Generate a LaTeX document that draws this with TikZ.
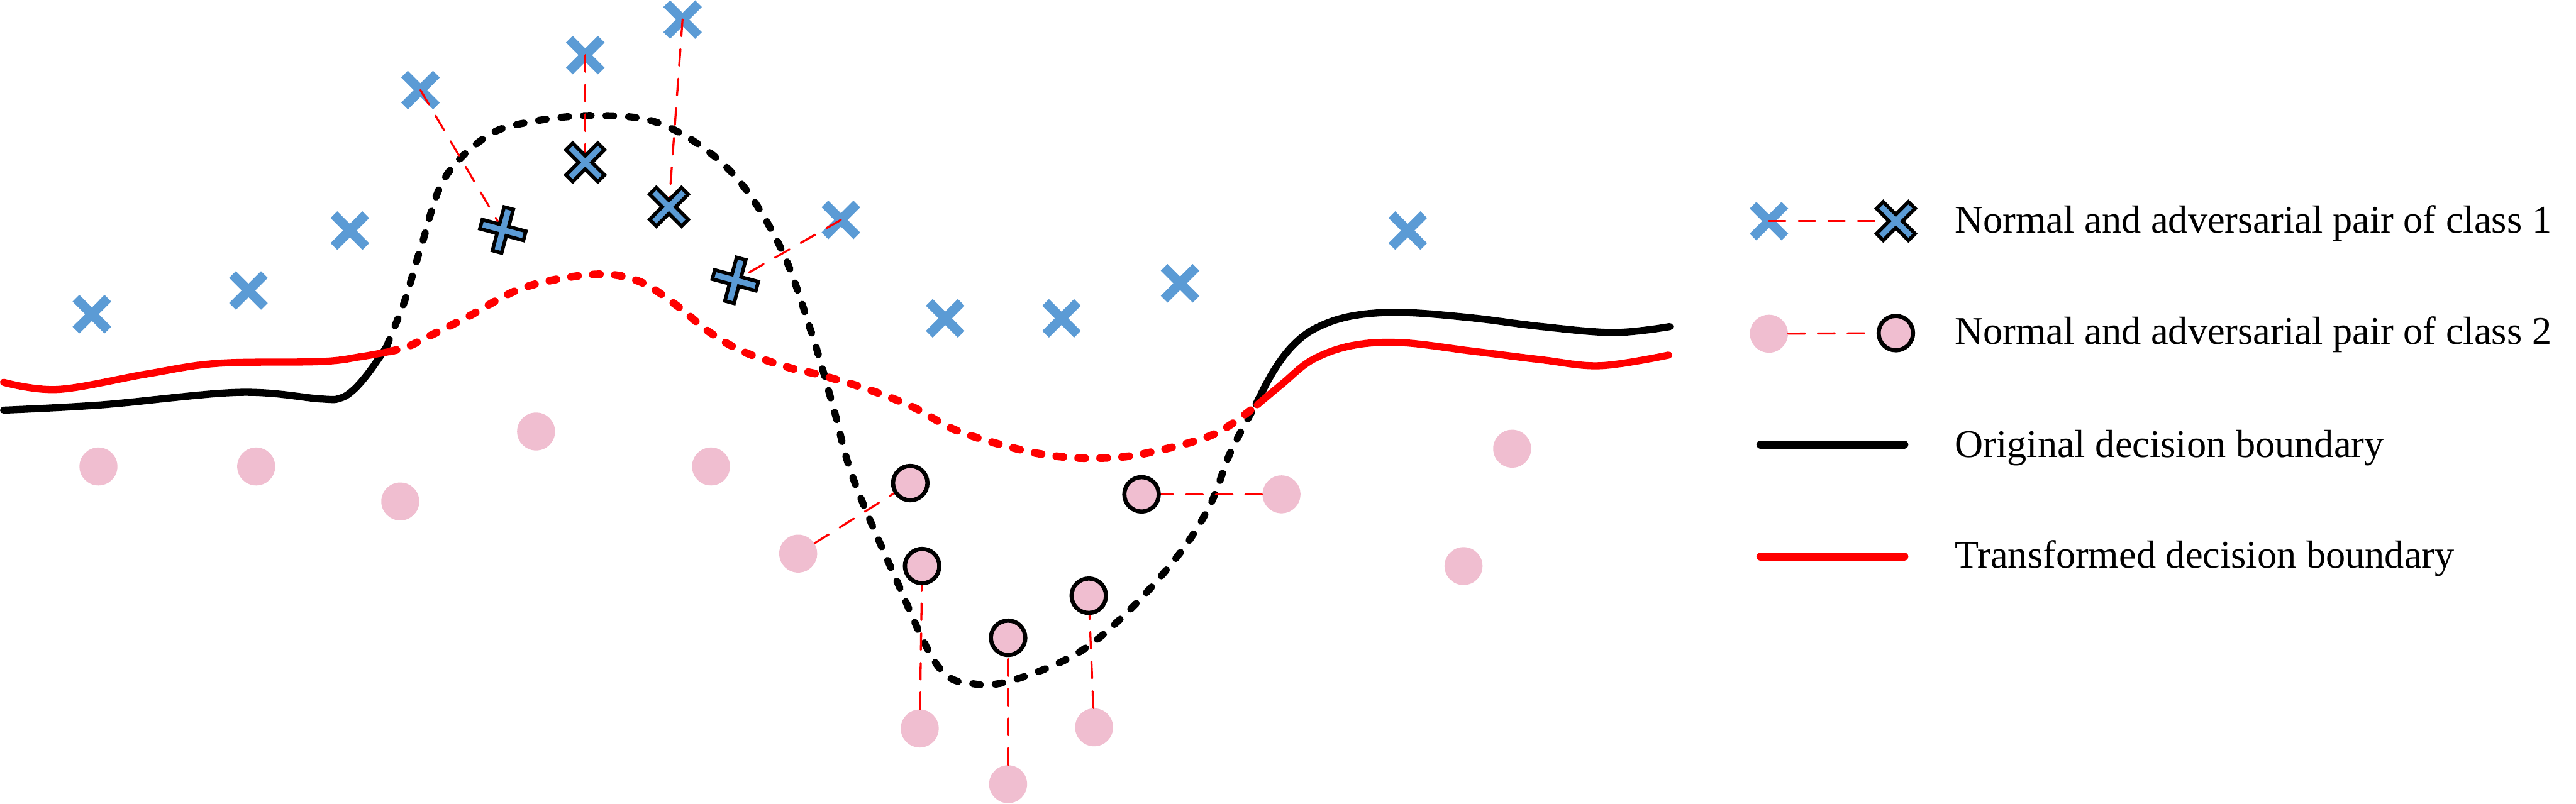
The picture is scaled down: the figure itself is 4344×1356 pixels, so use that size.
\documentclass[tikz,border=0pt]{standalone}
\usepackage{fontspec}
\setmainfont{Liberation Serif}
\usepackage{xcolor}
\usepackage{tikz}
\usetikzlibrary{calc}
\definecolor{xblue}{RGB}{91,155,213}
\definecolor{dotpink}{RGB}{240,190,208}
\pgfdeclarelayer{front}
\pgfsetlayers{main,front}
%% cross outline turned by #1 degrees (arms 38 long, 8 half wide)
\newcommand{\crosspath}[1]{({#1+101.89}:38.83) -- ({#1+78.11}:38.83) -- ({#1+45}:11.31)
  -- ({#1+11.89}:38.83) -- ({#1-11.89}:38.83) -- ({#1-45}:11.31)
  -- ({#1-78.11}:38.83) -- ({#1-101.89}:38.83) -- ({#1-135}:11.31)
  -- ({#1-168.11}:38.83) -- ({#1+168.11}:38.83) -- ({#1+135}:11.31) -- cycle}
\tikzset{
  xnormal/.style = {rectangle, minimum size=1cm, inner sep=0pt,
                    path picture={\fill[xblue, shift={(path picture bounding box.center)}]
                                  \crosspath{#1};}},
  xnormal/.default = 45,
  xadv/.style    = {rectangle, minimum size=1.1cm, inner sep=0pt,
                    path picture={\filldraw[fill=xblue, draw=black, line width=0.06cm,
                                            shift={(path picture bounding box.center)}]
                                  \crosspath{#1};}},
  xadv/.default  = 45,
  onormal/.style = {circle, fill=dotpink, minimum size=0.64cm, inner sep=0pt},
  oadv/.style    = {circle, fill=dotpink, draw=black, line width=0.07cm,
                    minimum size=0.58cm, inner sep=0pt},
  pairline/.style = {red, line width=0.035cm, line cap=round,
                     dash pattern=on 0.28cm off 0.22cm},
  bound/.style   = {line width=0.12cm, line cap=round, line join=round},
  boundO/.style  = {bound, black},
  boundT/.style  = {bound, red},
  dashO/.style   = {bound, black, dash pattern=on 0.13cm off 0.25cm},
  dashT/.style   = {bound, red, line width=0.13cm, dash pattern=on 0.12cm off 0.25cm},
  legtext/.style = {anchor=base west, inner sep=0pt, font=\fontsize{18.8}{22}\selectfont},
}

\begin{document}
\begin{tikzpicture}[x=0.01cm, y=-0.01cm]
    \useasboundingbox (0,0) rectangle (4344,1356);

    %% Original decision boundary
    \draw[boundO] plot[smooth, tension=0.6] coordinates {(6,692) (172,683) (402,662) (540,673) (573,672)
        (597,657) (623,627) (652,585)};
    \draw[dashO] plot[smooth, tension=0.6] coordinates {(652,585) (663,557) (677,523) (689,487) (712,410)
        (749,302) (818,232) (887,207) (1002,195) (1117,210) (1231,288) (1314,413) (1368,560) (1406,690)
        (1438,805) (1507,968) (1581,1123) (1644,1154) (1713,1146) (1817,1102) (1903,1031) (1989,934)
        (2041,851) (2075,763) (2118,682)};
    \draw[boundO] plot[smooth, tension=0.6] coordinates {(2118,682) (2147,627) (2180,583) (2220,553)
        (2280,533) (2363,527) (2480,536) (2600,551) (2722,561) (2816,551)};

    %% Transformed decision boundary
    \draw[boundT] plot[smooth, tension=0.6] coordinates {(6,645) (98,657) (247,631) (367,613) (540,610)
        (607,602) (657,593)};
    \draw[dashT] plot[smooth, tension=0.6] coordinates {(657,593) (687,585) (722,568) (786,536) (884,485)
        (1002,463) (1076,474) (1138,513) (1196,560) (1253,593) (1330,620) (1385,633) (1464,657) (1540,687)
        (1610,725) (1702,754) (1776,769) (1851,773) (1931,765) (2046,733) (2120,683)};
    \draw[boundT] plot[smooth, tension=0.6] coordinates {(2120,683) (2163,647) (2213,607) (2280,583)
        (2363,578) (2480,592) (2600,607) (2699,617) (2814,599)};

    %% Class 1 samples
    \node[xnormal] (c1)  at (155,530)  {};
    \node[xnormal] (c2)  at (419,490)  {};
    \node[xnormal] (c3)  at (590,389)  {};
    \node[xnormal] (c4)  at (709,152)  {};
    \node[xnormal] (c5)  at (987,93)   {};
    \node[xnormal] (c6)  at (1151,33)  {};
    \node[xnormal] (c7)  at (1418,371) {};
    \node[xnormal] (c8)  at (1594,537) {};
    \node[xnormal] (c9)  at (1790,537) {};
    \node[xnormal] (c10) at (1990,478) {};
    \node[xnormal] (c11) at (2374,389) {};

    %% Class 2 samples
    \node[onormal] (p1)  at (166,787)  {};
    \node[onormal] (p2)  at (432,787)  {};
    \node[onormal] (p3)  at (675,846)  {};
    \node[onormal] (p4)  at (904,728)  {};
    \node[onormal] (p5)  at (1199,787) {};
    \node[onormal] (p6)  at (1346,934) {};
    \node[onormal] (p7)  at (1551,1229){};
    \node[onormal] (p8)  at (1700,1323){};
    \node[onormal] (p9)  at (1845,1227){};
    \node[onormal] (p10) at (2161,834) {};
    \node[onormal] (p11) at (2468,955) {};
    \node[onormal] (p12) at (2550,757) {};

    %% Adversarial samples
    \begin{pgfonlayer}{front}
    \node[xadv]    (a1) at (987,274)  {};
    \node[xadv]    (a2) at (1128,349) {};
    \node[xadv=15] (a3) at (848,388)  {};
    \node[xadv=15] (a4) at (1240,473) {};
    \node[oadv] (b1) at (1535,815)  {};
    \node[oadv] (b2) at (1555,955)  {};
    \node[oadv] (b3) at (1700,1076) {};
    \node[oadv] (b4) at (1836,1005) {};
    \node[oadv] (b5) at (1925,834)  {};
    \end{pgfonlayer}

    \draw[pairline] (c5.center) -- (a1.center);
    \draw[pairline] (c6.center) -- (a2.center);
    \draw[pairline] (c4.center) -- (a3.center);
    \draw[pairline] (c7.center) -- (a4.center);
    \draw[pairline] (p6) -- (b1);
    \draw[pairline] (p7) -- (b2);
    \draw[pairline] (p8) -- (b3);
    \draw[pairline] (p9) -- (b4);
    \draw[pairline] (p10) -- (b5);

    %% Legend
    \node[xnormal] (lx1) at (2983,373) {};
    \node[onormal] (lo1) at (2983,563) {};
    \begin{pgfonlayer}{front}
    \node[xadv] (lx2) at (3197,373) {};
    \node[oadv] (lo2) at (3197,562) {};
    \end{pgfonlayer}
    \draw[pairline] (lx1.center) -- (lx2.center);
    \draw[pairline] (lo1) -- (lo2);
    \draw[boundO, line width=0.14cm] (2969,750) -- (3211,750);
    \draw[boundT, line width=0.14cm] (2969,939) -- (3211,939);

    \node[legtext] (t1) at (3296,393) {Normal and adversarial pair of class 1};
    \node[legtext] (t2) at (3296,581) {Normal and adversarial pair of class 2};
    \node[legtext] (t3) at (3296,771) {Original decision boundary};
    \node[legtext] (t4) at (3296,958) {Transformed decision boundary};

  \end{tikzpicture}
\end{document}
